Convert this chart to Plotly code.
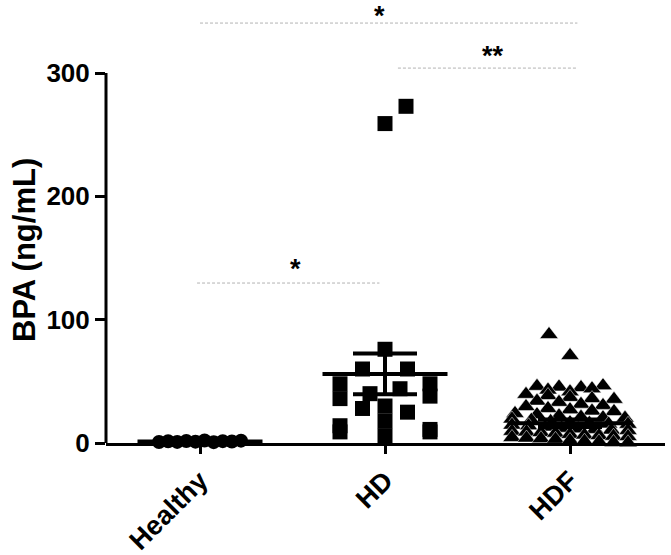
import plotly.graph_objects as go

# ---------------- data ----------------
categories = ["Healthy", "HD", "HDF"]

healthy_bpa = [0.8, 1.4, 0.9, 1.6, 1.1, 2.0, 0.7, 1.5, 1.2, 1.9]

hd_bpa = [9, 6, 9,
          14, 18, 11,
          28, 25,
          36, 30, 38,
          48, 40, 44, 48,
          60, 60,
          76,
          259, 273]

hdf_bpa = [88, 71,
           46, 45.5, 45, 46.5,
           43, 41.5, 44,
           39.5, 38.5, 37, 36, 35.5,
           34, 33, 31.5, 30.5,
           29.5, 28, 27, 26, 25.5,
           24, 23, 22, 21, 20.5, 20.2,
           19.5, 18.5, 17.5, 16.5, 16, 15.5, 15.2,
           14.5, 14, 13, 12, 11.5, 11, 10.5, 10.2,
           9.5, 9, 8.5, 8, 7, 6.5, 6, 5.5, 5.2,
           4.5, 4, 3.5, 3, 2, 1.5, 1, 0.5, 0.2]

group_means = [1.2, 56.0, 16.0]
group_sem = [0.3, 16.5, 3.0]

y_ticks = [0, 100, 200, 300]

# (group a, group b, label)
comparisons = [("Healthy", "HDF", "*"), ("HD", "HDF", "**"), ("Healthy", "HD", "*")]

# ---------------- layout helpers ----------------
PX_PER_X = 185.0
PX_PER_Y = 370.0 / 300.0
X_RANGE = [-94 / PX_PER_X, 465 / PX_PER_X]
Y_RANGE = [0, 359.2]


def swarm_offsets(values, bin_h, half_w_px, max_step_px, stagger_dir):
    """Prism-like column scatter: points in the same value band are spread sideways;
    isolated points that sit close above another isolated point are nudged aside."""
    bins = {}
    for i, v in enumerate(values):
        bins.setdefault(int(v // bin_h), []).append(i)
    off = [0.0] * len(values)
    for idx in bins.values():
        n = len(idx)
        if n == 1:
            continue
        step = min(max_step_px, 2 * half_w_px / (n - 1))
        for k, i in enumerate(idx):
            off[i] = (k - (n - 1) / 2) * step / PX_PER_X
    singles = sorted((values[idx[0]], idx[0]) for idx in bins.values() if len(idx) == 1)
    for (v0, i0), (v1, i1) in zip(singles, singles[1:]):
        if (v1 - v0) * PX_PER_Y < 25 and off[i0] == 0:
            off[i1] = stagger_dir * 21 / PX_PER_X
    return off


groups = [
    (healthy_bpa, "circle", 14, 10, 41, 41, 1),
    (hd_bpa, "square", 15, 10, 45, 45, 1),
    (hdf_bpa, "triangle-up", 16, 5, 58, 22, -1),
]

fig = go.Figure()

for gi, (vals, sym, size, bh, hw, step, sd) in enumerate(groups):
    offs = swarm_offsets(vals, bh, hw, step, sd)
    fig.add_trace(go.Scatter(
        x=[gi + o for o in offs], y=vals, mode="markers",
        marker=dict(symbol=sym, size=size, color="black",
                    line=dict(color="white", width=0.5 if sym == "triangle-up" else 0)),
        cliponaxis=False, showlegend=False, hoverinfo="y"))

MEAN_HALF = 62.5 / PX_PER_X
for gi, (m, s) in enumerate(zip(group_means, group_sem)):
    fig.add_trace(go.Scatter(
        x=[gi - MEAN_HALF, gi + MEAN_HALF], y=[m, m], mode="lines",
        line=dict(color="black", width=4), showlegend=False, hoverinfo="skip"))
    fig.add_trace(go.Scatter(
        x=[gi], y=[m], mode="markers",
        marker=dict(size=1, color="rgba(0,0,0,0)"),
        error_y=dict(type="data", array=[s], visible=True, color="black",
                     thickness=4, width=32),
        showlegend=False, hoverinfo="skip"))

# significance brackets
bracket_y = [340.5, 304.0, 129.7]
bracket_x = [(0.0, 2.04), (1.07, 2.04), (-0.016, 0.97)]
star_pos = [(0.968, 346.4), (1.584, 313.5), (0.514, 141.0)]
for (a, b, lab), yb, (x0, x1), (sx, sy) in zip(comparisons, bracket_y, bracket_x, star_pos):
    fig.add_shape(type="line", xref="x", yref="y", x0=x0, x1=x1, y0=yb, y1=yb,
                  line=dict(color="#b3b3b3", width=1, dash="3px,2px"))
    fig.add_annotation(x=sx, y=sy, xref="x", yref="y", text=lab, showarrow=False,
                       font=dict(size=27, color="black", weight="bold"), yanchor="middle")

# y axis line only up to 300
fig.add_shape(type="line", xref="paper", yref="y", x0=0, x1=0, y0=0, y1=300,
              line=dict(color="black", width=3))

# y title
fig.add_annotation(xref="paper", yref="paper", x=(24 - 106) / 559, y=(443 - 250) / 443,
                   text="BPA (ng/mL)", textangle=-90, showarrow=False,
                   font=dict(size=31, color="black", weight="bold"),
                   xanchor="center", yanchor="middle")

FONT = "Liberation Sans, Arial, sans-serif"
fig.update_layout(
    width=671, height=555,
    margin=dict(l=106, r=6, t=0, b=112),
    paper_bgcolor="white", plot_bgcolor="white",
    font=dict(family=FONT, color="black"),
    showlegend=False,
    xaxis=dict(range=X_RANGE, tickvals=[0, 1, 2], ticktext=categories,
               tickangle=-45, showline=True, linewidth=3, linecolor="black",
               ticks="outside", ticklen=8, tickwidth=3, tickcolor="black",
               showgrid=False, zeroline=False,
               tickfont=dict(size=27, weight="bold", family=FONT)),
    yaxis=dict(range=Y_RANGE, tickvals=y_ticks, showline=False,
               ticks="outside", ticklen=10, tickwidth=3, tickcolor="black",
               showgrid=False, zeroline=False,
               tickfont=dict(size=26, weight="bold", family=FONT)),
)

fig.write_html("out.html", config={"displayModeBar": False},
               post_script="document.body.style.margin='0';document.body.style.overflow='hidden';")
